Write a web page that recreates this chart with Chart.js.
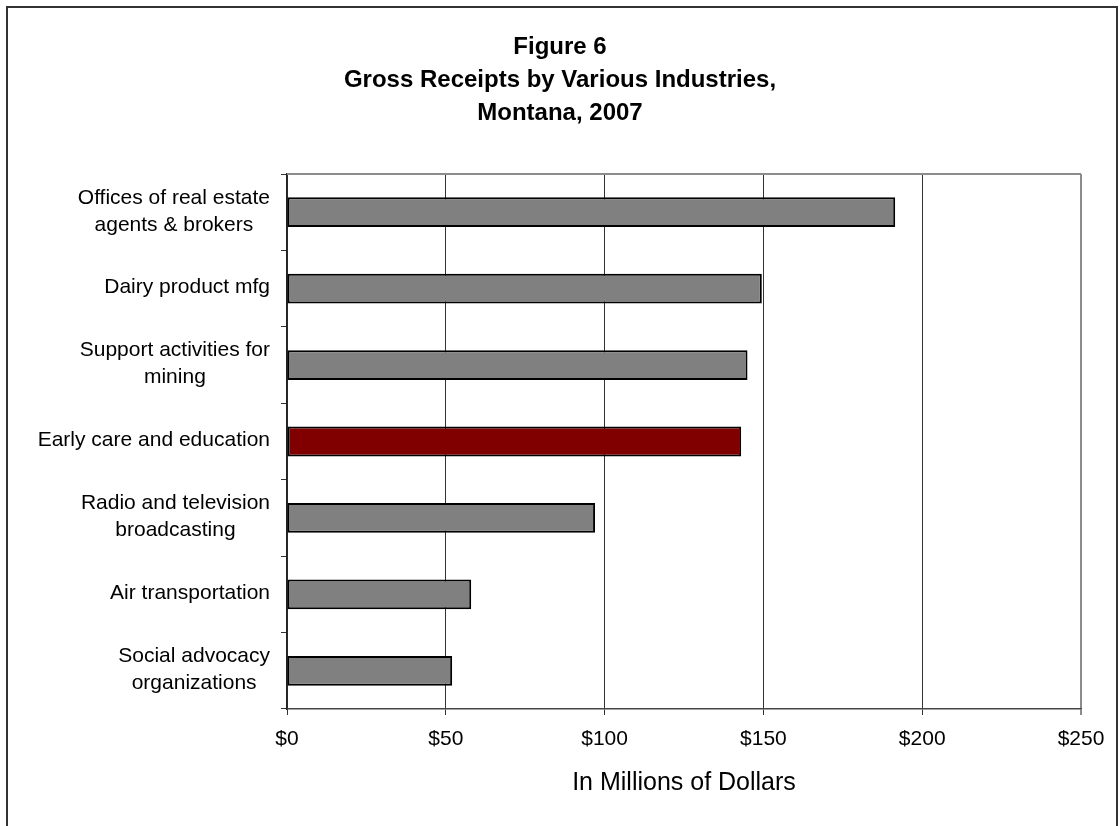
<!DOCTYPE html>
<html>
<head>
<meta charset="utf-8">
<script src="https://cdn.jsdelivr.net/npm/chart.js@4.4.1/dist/chart.umd.min.js"></script>
<style>
  html, body { margin: 0; padding: 0; background: #fff; }
  canvas { display: block; }
</style>
</head>
<body>
<canvas id="chart" width="1120" height="826"></canvas>
<script>
// Gross receipts, Montana 2007 (millions of dollars)
const industries = [
  ['Offices of real estate', 'agents & brokers'],
  'Dairy product mfg',
  ['Support activities for', 'mining'],
  'Early care and education',
  ['Radio and television', 'broadcasting'],
  'Air transportation',
  ['Social advocacy', 'organizations']
];
const receipts = [191.5, 149.5, 145, 143, 97, 58, 52];
const highlighted = 'Early care and education';
const titleLines = ['Figure 6', 'Gross Receipts by Various Industries,', 'Montana, 2007'];
const axisTitle = 'In Millions of Dollars';

const FONT = '"Liberation Sans", Arial, sans-serif';

const barColors = industries.map(l => l === highlighted ? '#800000' : '#808080');

// frame, title, plot border and the centred category labels
const decorations = {
  id: 'decorations',
  beforeDraw(chart) {
    const ctx = chart.ctx;
    ctx.save();
    ctx.fillStyle = '#fff';
    ctx.fillRect(0, 0, chart.width, chart.height);
    ctx.restore();
  },
  afterDatasetsDraw(chart) {
    const ctx = chart.ctx;
    const area = chart.chartArea;
    ctx.save();
    ctx.strokeStyle = '#8c8c8c';
    ctx.lineWidth = 2;
    ctx.beginPath();
    ctx.moveTo(area.left, area.top);
    ctx.lineTo(area.right, area.top);
    ctx.stroke();
    ctx.restore();
  },
  afterDraw(chart) {
    const ctx = chart.ctx;
    ctx.save();

    ctx.strokeStyle = '#333';
    ctx.lineWidth = 2;
    ctx.strokeRect(7, 7, 1110, 900);

    ctx.fillStyle = '#000';
    ctx.textAlign = 'center';
    ctx.textBaseline = 'alphabetic';
    ctx.font = 'bold 24px ' + FONT;
    titleLines.forEach((t, i) => ctx.fillText(t, 560, 54 + i * 33));

    const yScale = chart.scales.y;
    ctx.font = '21px ' + FONT;
    ctx.textBaseline = 'middle';
    const rightEdge = 270;
    const gap = 27;
    industries.forEach((label, i) => {
      const lines = Array.isArray(label) ? label : [label];
      const w = Math.max(...lines.map(s => ctx.measureText(s).width));
      const cx = rightEdge - w / 2;
      const cy = yScale.getPixelForTick(i) - 1;
      const y0 = cy - (lines.length - 1) * gap / 2;
      lines.forEach((s, j) => ctx.fillText(s, cx, y0 + j * gap));
    });

    ctx.restore();
  }
};

new Chart(document.getElementById('chart'), {
  type: 'bar',
  data: {
    labels: industries,
    datasets: [{
      data: receipts,
      backgroundColor: barColors,
      borderColor: '#000',
      borderWidth: 2,
      borderSkipped: false,
      barPercentage: 0.39,
      categoryPercentage: 1
    }]
  },
  options: {
    indexAxis: 'y',
    responsive: false,
    animation: false,
    layout: { padding: { top: 174, right: 39, bottom: 28, left: 0 } },
    plugins: {
      legend: { display: false },
      title: { display: false },
      tooltip: { enabled: false }
    },
    scales: {
      x: {
        min: 0,
        max: 250,
        afterFit(scale) { scale.height = 89; },
        ticks: {
          stepSize: 50,
          padding: 12,
          color: '#000',
          font: { family: FONT, size: 21 },
          callback: v => '$' + v
        },
        grid: {
          color: ctx => ctx.tick && ctx.tick.value === 250 ? '#8c8c8c' : '#333',
          lineWidth: ctx => ctx.tick && ctx.tick.value === 250 ? 2 : 1,
          tickLength: 6
        },
        border: { color: '#444', width: 1.5 },
        title: {
          display: true,
          text: axisTitle,
          color: '#000',
          font: { family: FONT, size: 25 },
          padding: { top: 14, bottom: 0 }
        }
      },
      y: {
        afterFit(scale) { scale.width = 287; },
        ticks: { display: false },
        grid: {
          offset: true,
          drawOnChartArea: false,
          color: '#333',
          tickLength: 6
        },
        border: { color: '#222', width: 1.5 }
      }
    }
  },
  plugins: [decorations]
});
</script>
</body>
</html>
